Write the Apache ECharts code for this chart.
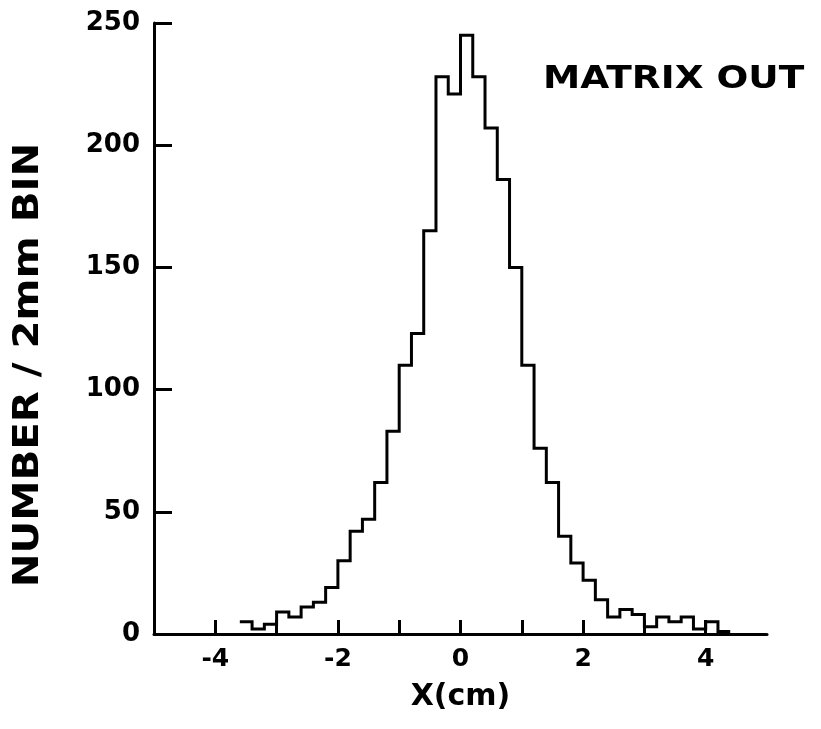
<!DOCTYPE html>
<html>
<head>
<meta charset="utf-8">
<script src="https://cdn.jsdelivr.net/npm/echarts@6/dist/echarts.min.js"></script>
<style>
  html, body { margin: 0; padding: 0; background: #fff; }
  #chart { width: 821px; height: 729px; }
</style>
</head>
<body>
<div id="chart"></div>
<script>
// Histogram bin edges (cm) and counts per 2 mm bin
const binEdges = [-3.6, -3.4, -3.2, -3.0, -2.8, -2.6, -2.4, -2.2, -2.0, -1.8,
                  -1.6, -1.4, -1.2, -1.0, -0.8, -0.6, -0.4, -0.2, 0.0, 0.2,
                  0.4, 0.6, 0.8, 1.0, 1.2, 1.4, 1.6, 1.8, 2.0, 2.2,
                  2.4, 2.6, 2.8, 3.0, 3.2, 3.4, 3.6, 3.8, 4.0, 4.2, 4.4];
const binCounts = [5, 2, 4, 9, 7, 11, 13, 19, 30, 42,
                   47, 62, 83, 110, 123, 165, 228, 221, 245, 228,
                   207, 186, 150, 110, 76, 62, 40, 29, 22, 14,
                   7, 10, 8, 3, 7, 5, 7, 2, 5, 1];

const xTicks = [-4, -3, -2, -1, 0, 1, 2, 3, 4];
const xTickLabels = [-4, -2, 0, 2, 4];
const yTicks = [0, 50, 100, 150, 200, 250];

const titleText = 'MATRIX OUT';
const xName = 'X(cm)';
const yName = 'NUMBER / 2mm BIN';

// Step outline: each bin's count held from its left edge to the next edge
const stepData = binCounts.map((c, i) => [binEdges[i], c]);
stepData.push([binEdges[binEdges.length - 1], binCounts[binCounts.length - 1]]);

const FONT = 'DejaVu Sans';
const chart = echarts.init(document.getElementById('chart'), null, { renderer: 'canvas' });

chart.setOption({
  backgroundColor: '#ffffff',
  animation: false,
  grid: { left: 154, right: 54, top: 23, bottom: 95, containLabel: false },
  xAxis: {
    type: 'value',
    min: -5, max: 5, interval: 1,
    name: xName,
    nameLocation: 'middle',
    nameGap: 48,
    nameTextStyle: { fontFamily: FONT, fontWeight: 'bold', fontSize: 30, color: '#000' },
    axisLine: { show: true, onZero: false, lineStyle: { color: '#000', width: 3 } },
    axisTick: { show: true, inside: true, length: 14, customValues: xTicks,
                lineStyle: { color: '#000', width: 3 } },
    axisLabel: { show: true, customValues: xTickLabels, margin: 13,
                 fontFamily: FONT, fontWeight: 'bold', fontSize: 25, color: '#000' },
    splitLine: { show: false }
  },
  yAxis: {
    type: 'value',
    min: 0, max: 250, interval: 50,
    axisLine: { show: true, onZero: false, lineStyle: { color: '#000', width: 3 } },
    axisTick: { show: true, inside: true, length: 18, customValues: yTicks,
                lineStyle: { color: '#000', width: 3 } },
    axisLabel: { show: true, margin: 14,
                 fontFamily: FONT, fontWeight: 'bold', fontSize: 26, color: '#000' },
    splitLine: { show: false }
  },
  graphic: [
    {
      type: 'text',
      x: 543, y: 80,
      scaleX: 1.17,
      style: {
        text: titleText,
        fontFamily: FONT, fontWeight: 'bold', fontSize: 32,
        fill: '#000', textAlign: 'left', textVerticalAlign: 'middle'
      }
    },
    {
      type: 'text',
      x: 29, y: 365,
      rotation: Math.PI / 2,
      scaleX: 1.12,
      style: {
        text: yName,
        fontFamily: FONT, fontWeight: 'bold', fontSize: 36,
        fill: '#000', textAlign: 'center', textVerticalAlign: 'middle'
      }
    }
  ],
  series: [{
    type: 'line',
    step: 'end',
    data: stepData,
    showSymbol: false,
    symbol: 'none',
    lineStyle: { color: '#000', width: 3, join: 'miter', cap: 'butt' },
    silent: true
  }]
});
</script>
</body>
</html>
